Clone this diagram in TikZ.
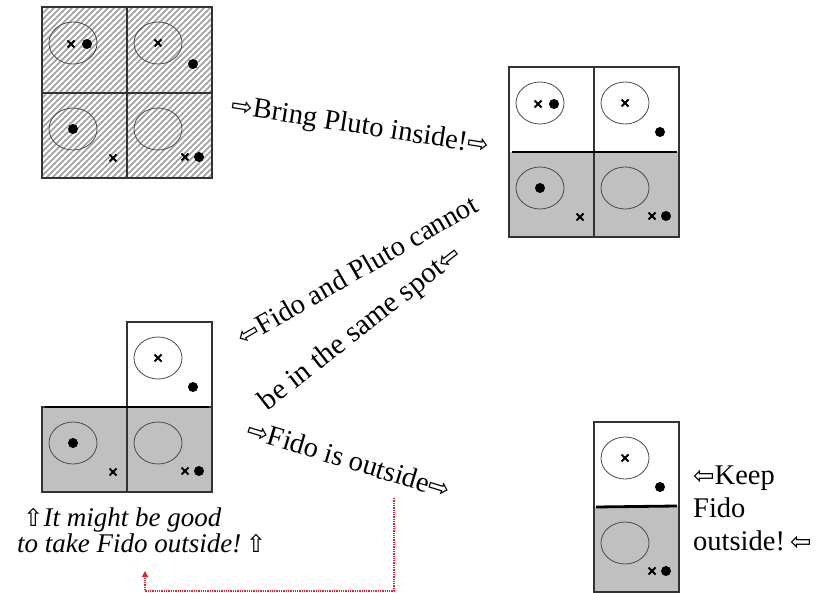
\documentclass[tikz,border=0pt]{standalone}
\usepackage{fontspec}
\usepackage{graphicx}
\setmainfont{Liberation Serif}
\newfontfamily\arrfont{DejaVu Sans}
\usetikzlibrary{arrows.meta}
\newcommand\wra{{\arrfont\scalebox{0.9}{\char"21E8}}}
\newcommand\wla{{\arrfont\scalebox{0.9}{\char"21E6}}}
\newcommand\wua{{\arrfont\scalebox{0.9}{\char"21E7}}}
\definecolor{cellgray}{HTML}{C0C0C0}
\definecolor{reddot}{RGB}{210,40,55}
\newcommand\Ellp[2]{\draw[ellline] ({#1+31},{#2+36}) ellipse [x radius=24, y radius=21];}
\newcommand\Crs[2]{\draw[crsline] ({#1-3.5},{#2-3.5}) -- ({#1+3.5},{#2+3.5}) ({#1-3.5},{#2+3.5}) -- ({#1+3.5},{#2-3.5});}
\newcommand\Dt[2]{\fill ({#1},{#2}) circle [radius=5];}
\newcommand\cA[2]{\Ellp{#1}{#2}\Crs{#1+29}{#2+37}\Dt{#1+45}{#2+37}}
\newcommand\cB[3]{\Ellp{#1}{#2}\Crs{#1+31}{#2+36}\Dt{#1+66}{#2+#3}}
\newcommand\cC[2]{\Ellp{#1}{#2}\Dt{#1+31}{#2+36}\Crs{#1+71}{#2+65}}
\newcommand\cD[2]{\Ellp{#1}{#2}\Crs{#1+58}{#2+64}\Dt{#1+72}{#2+64}}
\tikzset{
  cellline/.style={draw=black!80, line width=1.1pt},
  ellline/.style={draw=black!70, line width=0.8pt},
  crsline/.style={draw=black, line width=1.8pt},
  divline/.style={draw=black, line width=2.8pt},
  hatchline/.style={draw=black!38, line width=1.6pt},
  txt/.style={font=\fontsize{28.5}{32}\selectfont, inner sep=0pt},
  itxt/.style={font=\fontsize{27}{30}\selectfont\itshape, inner sep=0pt},
  reddotted/.style={draw=reddot, line width=1.3pt, densely dotted}
}
\begin{document}
\begin{tikzpicture}[x=1pt,y=-1pt]
\useasboundingbox[fill=white] (0,0) rectangle (817,593);
% ---- grid 1 (hatched) ----
\begin{scope}
  \clip (42,7) rectangle (212,178);
  \foreach \i in {-182,-176,...,176} \draw[hatchline] ({42+\i},178) -- ({42+\i+171},7);
\end{scope}
\draw[cellline] (42,7) rectangle (212,178);
\draw[cellline] (127,7) -- (127,178) (42,93) -- (212,93);
\cA{42}{7}\cB{127}{7}{57}\cC{42}{93}\cD{127}{93}
% ---- grid 2 ----
\fill[cellgray] (509,152) rectangle (679,237);
\draw[cellline] (509,67) rectangle (679,237);
\draw[cellline] (594,67) -- (594,237);
\draw[divline] (512,152) -- (677,152);
\cA{509}{67}\cB{594}{67}{65}\cC{509}{152}\cD{594}{152}
% ---- grid 3 ----
\fill[cellgray] (42,407) rectangle (212,492);
\draw[cellline] (127,322) rectangle (212,407);
\draw[cellline] (42,407) rectangle (212,492);
\draw[cellline] (127,407) -- (127,492);
\draw[divline] (45,407) -- (209,407);
\cB{127}{322}{65}\cC{42}{407}\cD{127}{407}
% ---- grid 4 ----
\fill[cellgray] (594,507) rectangle (679,592);
\draw[cellline] (594,422) rectangle (679,592);
\draw[divline] (596,507) -- (677,506);
\cB{594}{422}{65}\cD{594}{507}
% ---- texts ----
\node[txt, rotate=-9] (tbring) at (360,127) {\wra Bring Pluto inside!\wra};
\node[txt, rotate=30] (tfido1) at (357,270) {\wla Fido and Pluto cannot};
\node[txt, font=\fontsize{29.5}{32}\selectfont, rotate=38] (tfido2) at (361,329) {be in the same spot\wla};
\node[txt, rotate=-17] (tout) at (349,459) {\wra Fido is outside\wra};
\node[itxt, anchor=base west] (tgood1) at (23,526) {\wua It might be good};
\node[itxt, anchor=base west] (tgood2) at (17,552) {to take Fido outside!\,\wua};
\node[txt, anchor=base west] (tkeep1) at (693,485) {\wla Keep};
\node[txt, anchor=base west] (tkeep2) at (693,517) {Fido};
\node[txt, anchor=base west] (tkeep3) at (693,550) {outside!\hspace{5pt}\wla};
% ---- red dotted connector ----
\coordinate (rs) at (394,498);
\coordinate (rc) at (145,591);
\coordinate (re) at (145,571);
\draw[reddotted, -{Triangle[length=6pt,width=6pt]}] (rs) |- (rc) -- (re);
\end{tikzpicture}
\end{document}
